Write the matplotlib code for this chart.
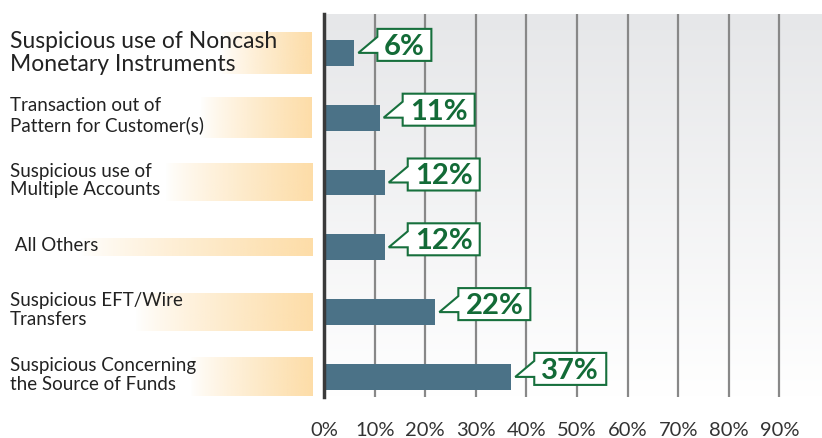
import matplotlib.pyplot as plt
import numpy as np
from matplotlib.patches import Polygon

categories = ["Suspicious use of Noncash\nMonetary Instruments",
              "Transaction out of\nPattern for Customer(s)",
              "Suspicious use of\nMultiple Accounts",
              " All Others",
              "Suspicious EFT/Wire\nTransfers",
              "Suspicious Concerning\nthe Source of Funds"]
values = [6, 11, 12, 12, 22, 37]
value_labels = ["6%", "11%", "12%", "12%", "22%", "37%"]
tick_values = [0, 10, 20, 30, 40, 50, 60, 70, 80, 90]
tick_labels = ["0%", "10%", "20%", "30%", "40%", "50%", "60%", "70%", "80%", "90%"]

W, H = 822, 439
BAR = "#4b7287"
GREEN = "#17703d"
plt.rcParams['font.family'] = ['Lato', 'DejaVu Sans']

fig = plt.figure(figsize=(W / 100, H / 100), dpi=100)
ax = fig.add_axes([324 / W, 1 - 398 / H, (W - 324) / W, (398 - 15) / H])

n = len(values)
ypos = np.arange(n)[::-1]   # first category on top
ax.set_xlim(0, 98.4)
ax.set_ylim(-0.31, n - 1 + 0.6)

# vertical grey-to-white background
grad = np.linspace(0, 1, 256).reshape(-1, 1)
top = np.array([0.902, 0.906, 0.914])
bot = np.array([1.0, 1.0, 1.0])
img = top + (bot - top) * grad[..., None]
ax.imshow(img, extent=[0, 98.4, -0.31, n - 0.4], aspect='auto', zorder=0, origin='upper')

for t in tick_values[1:]:
    ax.axvline(t, color="#888888", lw=1.6, zorder=1)
ax.barh(ypos, values, height=0.4, color=BAR, zorder=2)

ax.set_xticks(tick_values)
ax.set_xticklabels(tick_labels, fontsize=14.5, color="#333333")
ax.tick_params(axis='x', length=0, pad=17)
ax.get_xticklabels()[0].set_x(1.2)
ax.set_yticks([])
for s in ['top', 'right', 'bottom']:
    ax.spines[s].set_visible(False)
ax.spines['left'].set_color("#3a3a3a")
ax.spines['left'].set_linewidth(2.5)

# overlay in pixel coordinates for labels and callouts
ov = fig.add_axes([0, 0, 1, 1], zorder=5)
ov.set_xlim(0, W)
ov.set_ylim(H, 0)
ov.axis('off')
ov.patch.set_alpha(0)

fade_start = [220, 200, 165, 80, 135, 190]
rect_half = [21, 20.5, 19, 8.5, 19, 19.5]
orange = np.array([253, 221, 168]) / 255
for i, (cat, v, lab) in enumerate(zip(categories, values, value_labels)):
    xd, yd = ax.transData.transform((v, ypos[i]))
    yc = H - yd
    # gradient strip behind the category label
    x0 = fade_start[i]
    alpha = np.linspace(0, 1, 128) ** 0.8
    strip = np.zeros((1, 128, 4))
    strip[..., :3] = orange
    strip[..., 3] = alpha
    ov.imshow(strip, extent=[x0, 312, yc + rect_half[i], yc - rect_half[i]],
              aspect='auto', zorder=1, interpolation='bilinear')
    fs = 16.5 if i == 0 else 13.5
    ov.text(10, yc - (1 if i == 0 else 3), cat, fontsize=fs, color="#222222",
            va='center', ha='left', linespacing=1.1, zorder=2)

    # callout box with tail pointing at the bar end
    tip = xd + 4
    bx0 = tip + 19
    bw = 18 * (len(lab) + 1)
    btop, bbot = yc - 24, yc + 8
    shape = [(bx0, btop), (bx0 + bw, btop), (bx0 + bw, bbot), (bx0, bbot),
             (bx0, yc), (tip, yc), (bx0, btop + 8)]
    ov.add_patch(Polygon(shape, closed=True, facecolor='white', edgecolor=GREEN,
                         lw=1.5, zorder=3))
    ov.text(bx0 + bw / 2, (btop + bbot) / 2 + 1, lab, fontsize=21, fontweight='bold',
            color="#136b37", ha='center', va='center', zorder=4)

fig.savefig("out.png", dpi=100)
